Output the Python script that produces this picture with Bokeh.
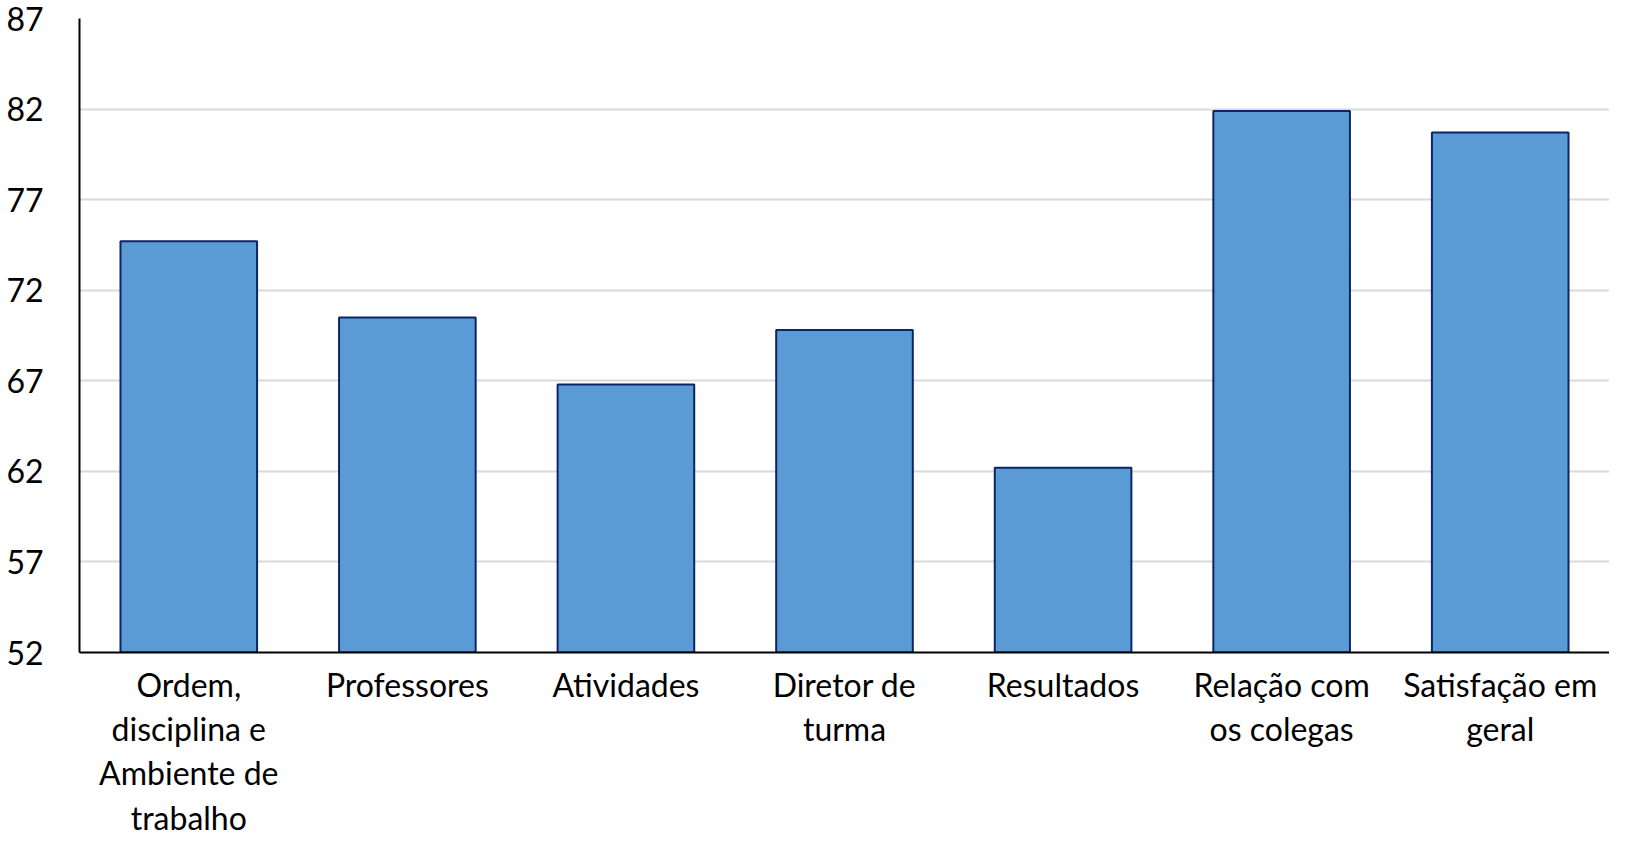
from bokeh.plotting import figure
from bokeh.models import Range1d, FixedTicker
from bokeh.embed import file_html
from bokeh.resources import INLINE

categories = ["Ordem,\ndisciplina e\nAmbiente de\ntrabalho", "Professores", "Atividades",
              "Diretor de\nturma", "Resultados", "Relação com\nos colegas", "Satisfação em\ngeral"]
values = [74.7, 70.5, 66.8, 69.8, 62.2, 81.9, 80.7]
y_ticks = [52, 57, 62, 67, 72, 77, 82, 87]

FONT = "Lato"

p = figure(width=1609, height=842, output_backend="svg", toolbar_location=None,
           x_range=Range1d(-0.5, len(categories) - 0.5), y_range=Range1d(52, 87),
           min_border_left=79, min_border_top=18, min_border_right=0, min_border_bottom=190)

xs = list(range(len(categories)))
p.vbar(x=xs, top=values, bottom=52, width=0.625, fill_color="#5B9BD5",
       line_color="#0B2565", line_width=2)

p.outline_line_color = None
p.xgrid.grid_line_color = None
p.ygrid.grid_line_color = "#d9d9d9"
p.ygrid.grid_line_width = 2
p.ygrid.ticker = FixedTicker(ticks=y_ticks)

p.yaxis.ticker = FixedTicker(ticks=y_ticks)
p.yaxis.axis_line_color = "black"
p.yaxis.axis_line_width = 2
p.yaxis.major_tick_line_color = None
p.yaxis.minor_tick_line_color = None
p.yaxis.major_tick_out = 0
p.yaxis.major_label_standoff = 36
p.yaxis.major_label_text_font = FONT
p.yaxis.major_label_text_font_size = "32px"
p.yaxis.major_label_text_color = "black"

p.xaxis.ticker = FixedTicker(ticks=xs)
p.xaxis.major_label_overrides = {i: c for i, c in enumerate(categories)}
p.xaxis.axis_line_color = "black"
p.xaxis.axis_line_width = 2
p.xaxis.major_tick_line_color = None
p.xaxis.minor_tick_line_color = None
p.xaxis.major_tick_out = 0
p.xaxis.major_label_standoff = 12
p.xaxis.major_label_text_font = FONT
p.xaxis.major_label_text_font_size = "32px"
p.xaxis.major_label_text_line_height = 1.14
p.xaxis.major_label_text_color = "black"

open("out.html", "w").write(file_html(p, INLINE))
